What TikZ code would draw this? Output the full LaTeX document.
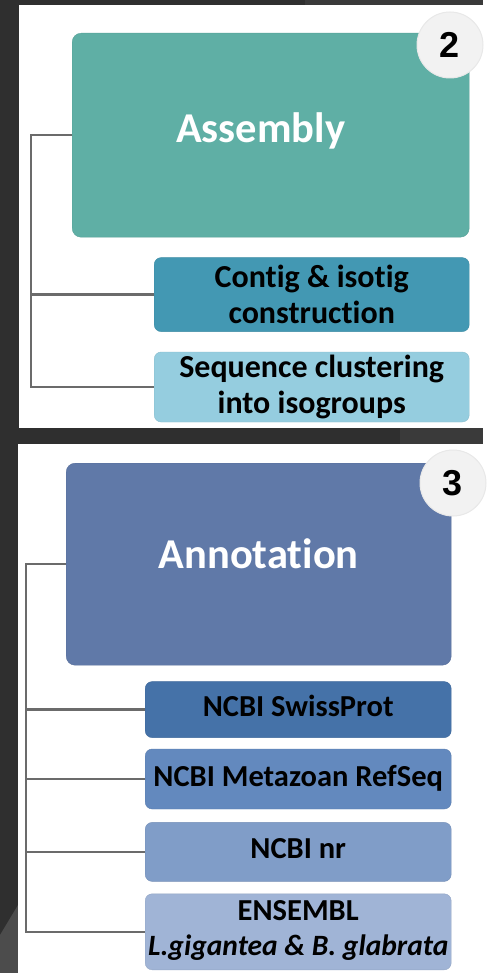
\documentclass[tikz,border=0pt]{standalone}
\usepackage{fontspec}
\setmainfont[Ligatures=NoCommon, RawFeature={-liga;-clig;-dlig}]{Carlito}
\newfontfamily\numfont{Liberation Sans}
\usetikzlibrary{positioning}
\definecolor{bg}{HTML}{2F2F2F}
\definecolor{bg2}{HTML}{3A3A3A}
\definecolor{c1}{HTML}{5FAFA5}
\definecolor{c2}{HTML}{4398B3}
\definecolor{c3}{HTML}{95CDDF}
\definecolor{c4}{HTML}{6079A8}
\definecolor{c5}{HTML}{4572A8}
\definecolor{c6}{HTML}{6389BE}
\definecolor{c7}{HTML}{809DC8}
\definecolor{c8}{HTML}{A0B4D6}
\definecolor{ln}{HTML}{6B6B6B}

\begin{document}
\begin{tikzpicture}[x=1pt, y=-1pt,
  box/.style={rounded corners=7pt, inner sep=0pt, align=center, font=\bfseries},
  big/.style={box, rounded corners=9pt, anchor=north west},
  bigtxt/.style={anchor=base, text=white, font=\bfseries\fontsize{42.5}{46}\selectfont},
  subA/.style={box, minimum width=315pt, font=\bfseries\fontsize{32}{36}\selectfont},
  subB/.style={box, minimum width=306pt, text depth=7pt, font=\bfseries\fontsize{30.5}{35}\selectfont},
  num/.style={circle, fill=black!5, draw=black!9, line width=1pt, minimum size=66pt,
              font=\numfont\bfseries\fontsize{36}{36}\selectfont},
  lnk/.style={draw=ln, line width=2.5pt}]
  % backdrop and the two panels
  \fill[bg] (0,0) rectangle (483,973);
  \fill[bg2] (305,0) rectangle (483,5);
  \fill[bg2] (400,428) rectangle (483,444);
  \fill[black!70] (0,935) -- (18,905) -- (18,973) -- (0,973) -- cycle;
  \fill[white] (19,5) rectangle (483,428);
  \fill[white] (18,444) rectangle (483,973);

  % step 2
  \node[big, fill=c1, draw=c1!92!black, minimum width=397pt, minimum height=204pt] (asm) at (72,33) {};
  \node[bigtxt] (asmt) at ([xshift=-10pt, yshift=-7pt]asm.center) {Assembly};
  \node[subA, fill=c2, draw=c2!92!black, minimum height=74pt, below=20pt of asm.south east, anchor=north east] (ctg)
       {Contig \& isotig\\construction};
  \node[subA, fill=c3, draw=c3!92!black, minimum height=70pt, below=20pt of ctg.south east, anchor=north east] (clu)
       {Sequence clustering\\ into isogroups};
  \node[num] (n2) at (450,45) {2};
  \coordinate (sp1) at (31,0);
  \draw[lnk] (asm.west) -| (sp1 |- clu.west) -- (clu.west);
  \draw[lnk] (ctg.west) -- (ctg.west -| sp1);

  % step 3
  \node[big, fill=c4, draw=c4!92!black, minimum width=385pt, minimum height=202pt] (ann) at (66,463) {};
  \node[bigtxt] (annt) at ([yshift=-4pt]ann.center) {Annotation};
  \node[subB, fill=c5, draw=c5!92!black, minimum height=56pt, below=16pt of ann.south east, anchor=north east] (swp)
       {NCBI SwissProt};
  \node[subB, fill=c6, draw=c6!92!black, minimum height=60pt, below=11pt of swp.south east, anchor=north east] (mrs)
       {NCBI Metazoan RefSeq};
  \node[subB, fill=c7, draw=c7!92!black, minimum height=59pt, below=13pt of mrs.south east, anchor=north east] (nr)
       {NCBI nr};
  \node[subB, fill=c8, draw=c8!92!black, minimum height=76pt, below=12pt of nr.south east, anchor=north east] (ens)
       {ENSEMBL\\\fontsize{29.5}{35}\selectfont\textit{L.gigantea \& B. glabrata}};
  \node[num] (n3) at (453,483) {3};
  \coordinate (sp2) at (26,0);
  \draw[lnk] (ann.west) -| (sp2 |- ens.west) -- (ens.west);
  \foreach \b in {swp,mrs,nr} \draw[lnk] (\b.west) -- (\b.west -| sp2);
\end{tikzpicture}
\end{document}
